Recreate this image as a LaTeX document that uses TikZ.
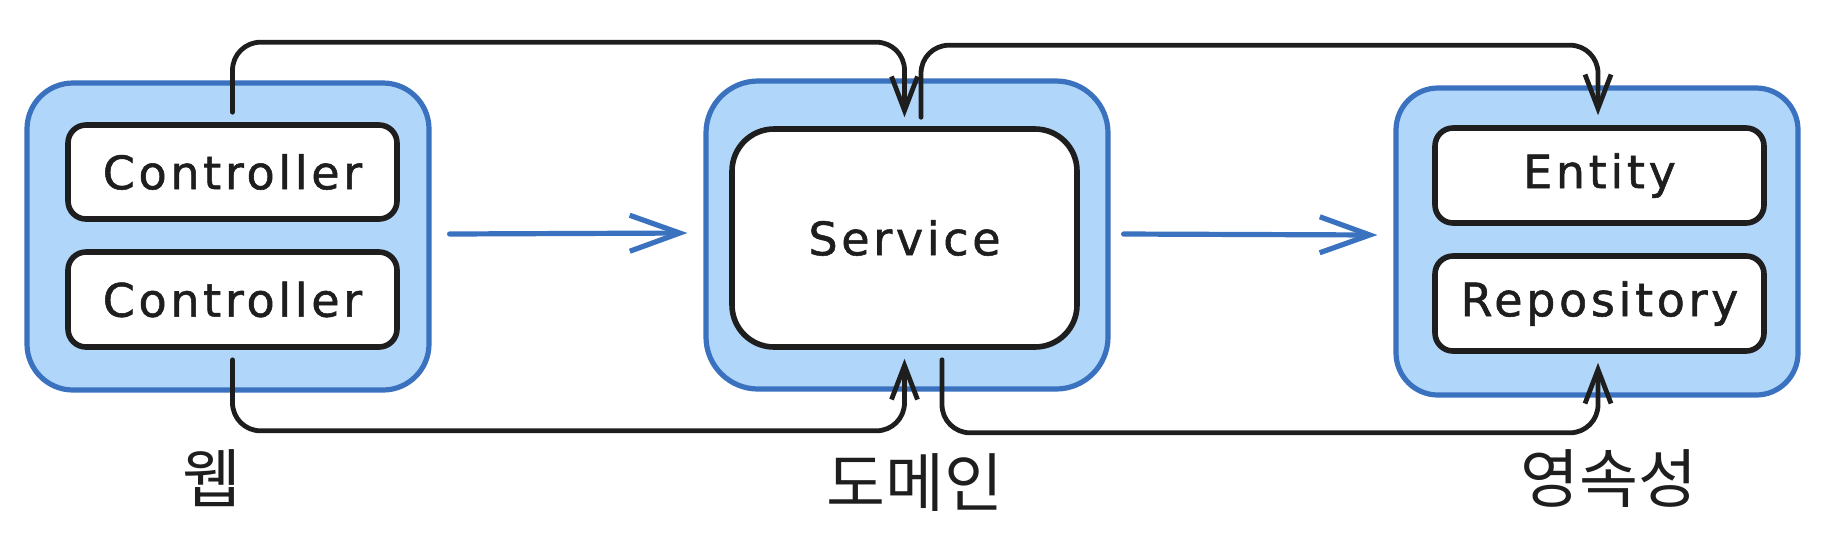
\documentclass[tikz,border=0pt]{standalone}
\usepackage{fontspec}
\newfontfamily\lblfont{DejaVu Sans}[LetterSpace=8,FakeBold=1.2]
\newfontfamily\krfont{Noto Sans CJK KR}
\usetikzlibrary{arrows.meta,calc}
\definecolor{ink}{HTML}{1E1E1E}
\definecolor{boxblue}{HTML}{3A72C0}
\definecolor{fillblue}{HTML}{B0D6FA}
\begin{document}
\begin{tikzpicture}[x=0.5pt,y=-0.5pt,
  layer/.style={draw=boxblue, fill=fillblue, line width=2.6pt, rounded corners=23pt, inner sep=0pt},
  inbox/.style={draw=ink, fill=white, line width=2.8pt, rounded corners=9pt, inner sep=0pt, text=ink, font=\lblfont\fontsize{23pt}{27pt}\selectfont},
  conn/.style={draw=ink, line width=2.4pt, line cap=round, line join=round, rounded corners=14pt, -{Straight Barb[length=17pt,width=13pt]}},
  flow/.style={draw=boxblue, line width=2.6pt, line cap=round, line join=round, -{Straight Barb[length=25pt,width=18pt]}},
  title/.style={inner sep=0pt, text=ink, font=\krfont\fontsize{32pt}{38pt}\selectfont}]
\useasboundingbox (0,0) rectangle (1834,554);
% layers
\node[layer, minimum width=201pt, minimum height=153.5pt] (web) at (228,236.5) {};
\node[layer, minimum width=201pt, minimum height=154pt, rounded corners=26pt] (dom) at (907,235) {};
\node[layer, minimum width=201pt, minimum height=153.5pt, rounded corners=21pt] (per) at (1597,241.5) {};
% inner boxes
\node[inbox, minimum width=164.5pt, minimum height=47pt] (c1) at (232.5,172) {Controller};
\node[inbox, minimum width=164.5pt, minimum height=47.5pt] (c2) at (232.5,299.5) {Controller};
\node[inbox, minimum width=172.5pt, minimum height=109pt, rounded corners=21pt] (svc) at (904.5,238) {Service};
\node[inbox, minimum width=164.5pt, minimum height=47.5pt] (ent) at (1599.5,175.5) {Entity};
\node[inbox, minimum width=164.5pt, minimum height=47.5pt] (rep) at (1599.5,303.5) {Repository};
% titles
\node[title] (tweb) at (212,478) {웹};
\node[title] (tdom) at (915,483) {도메인};
\node[title] (tper) at (1609,479) {영속성};
% connectors
\draw[conn] ($(c1.north)+(0,-10)$) -- ++(0,-70) -| ($(svc.north)+(0,-9)$);
\draw[conn] ($(svc.north)+(16.5,-9)$) -- ++(0,-72) -| ($(ent.north)+(-1.5,-10)$);
\draw[conn] ($(c2.south)+(0,10)$) -- ++(0,71) -| ($(svc.south)+(0,9)$);
\draw[conn] ($(svc.south)+(37.5,10)$) -- ++(0,73) -| ($(rep.south)+(-1.5,9)$);
\draw[flow] ($(web.east)+(18,-2.5)$) -- ($(dom.west)+(-16,-2)$);
\draw[flow] ($(dom.east)+(13,-1)$) -- ($(per.west)+(-16,-6.5)$);
\end{tikzpicture}
\end{document}
